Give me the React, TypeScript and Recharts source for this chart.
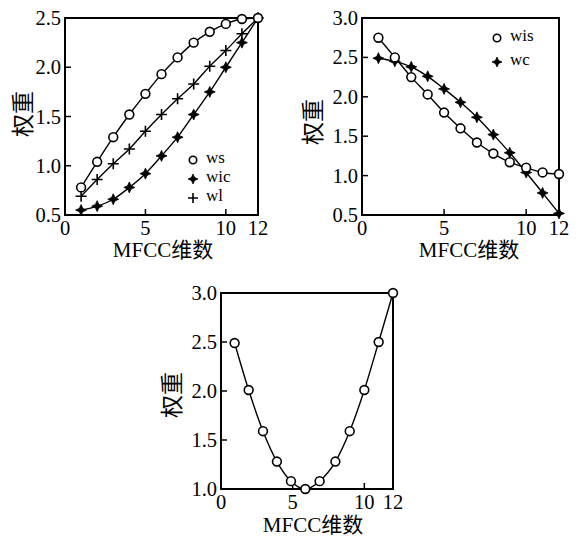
import React from "react";
import { LineChart, Line, XAxis, YAxis, ReferenceArea } from "recharts";

// ---------- data ----------
const dims = [1, 2, 3, 4, 5, 6, 7, 8, 9, 10, 11, 12];

// plot 1
const wsValues = [0.78, 1.04, 1.29, 1.52, 1.73, 1.93, 2.1, 2.25, 2.36, 2.44, 2.49, 2.5];
const wicValues = [0.55, 0.59, 0.66, 0.78, 0.92, 1.1, 1.29, 1.52, 1.75, 2.0, 2.25, 2.5];
const wlValues = [0.69, 0.86, 1.02, 1.17, 1.35, 1.52, 1.68, 1.83, 2.01, 2.17, 2.34, 2.5];

// plot 2
const wisValues = [2.75, 2.5, 2.25, 2.03, 1.8, 1.6, 1.42, 1.28, 1.17, 1.1, 1.04, 1.02];
const wcValues = [2.49, 2.45, 2.38, 2.26, 2.1, 1.93, 1.74, 1.52, 1.29, 1.04, 0.78, 0.52];

// plot 3
const dims3 = [0.95, 1.93, 2.93, 3.9, 4.88, 5.88, 6.88, 7.98, 8.98, 10, 11, 12];
const w3Values = [2.49, 2.01, 1.59, 1.28, 1.08, 1.0, 1.08, 1.28, 1.59, 2.01, 2.5, 3.0];

const xTicks = [0, 5, 10, 12];
const yTicks1 = [0.5, 1.0, 1.5, 2.0, 2.5];
const yTicks2 = [0.5, 1.0, 1.5, 2.0, 2.5, 3.0];
const yTicks3 = [1.0, 1.5, 2.0, 2.5, 3.0];

const yLabel = "权重";
const xLabel = "MFCC维数";

const data1 = dims.map((x, i) => ({ x, ws: wsValues[i], wic: wicValues[i], wl: wlValues[i] }));
const data2 = dims.map((x, i) => ({ x, wis: wisValues[i], wc: wcValues[i] }));
const data3 = dims3.map((x, i) => ({ x, w: w3Values[i] }));

// ---------- styles ----------
const SERIF = "'Liberation Serif', 'Times New Roman', 'Noto Sans CJK SC', serif";
const TICK_FONT = 20.5;

type MarkerKind = "circle" | "star" | "plus";

function MarkerShape({ cx, cy, kind, scale = 1 }: { cx: number; cy: number; kind: MarkerKind; scale?: number }) {
  if (cx == null || cy == null) return null;
  if (kind === "circle") {
    return <circle cx={cx} cy={cy} r={4.4 * scale} fill="#fff" stroke="#000" strokeWidth={1.6} />;
  }
  if (kind === "plus") {
    const s = 5.5 * scale;
    return (
      <path
        d={`M${cx - s},${cy}H${cx + s}M${cx},${cy - s}V${cy + s}`}
        stroke="#000"
        strokeWidth={1.6}
        fill="none"
      />
    );
  }
  const o = 5.5 * scale;
  const n = 1.7 * scale;
  const d = `M${cx},${cy - o}L${cx + n},${cy - n}L${cx + o},${cy}L${cx + n},${cy + n}L${cx},${cy + o}L${cx - n},${cy + n}L${cx - o},${cy}L${cx - n},${cy - n}Z`;
  return (
    <g>
      <path d={d} fill="#000" stroke="#000" strokeWidth={0.8} />
      <circle cx={cx} cy={cy} r={2.3 * scale} fill="#000" />
    </g>
  );
}

const makeDot = (kind: MarkerKind) => (props: any) => (
  <MarkerShape key={`${kind}-${props.index}`} cx={props.cx} cy={props.cy} kind={kind} />
);

const YTick = (props: any) => {
  const { x, y, payload } = props;
  return (
    <text x={x} y={y} textAnchor="end" dominantBaseline="central" fontFamily={SERIF} fontSize={TICK_FONT} fill="#000">
      {Number(payload.value).toFixed(1)}
    </text>
  );
};

const XTick = (props: any) => {
  const { x, y, payload } = props;
  return (
    <text x={x} y={y} dy="0.71em" textAnchor="middle" fontFamily={SERIF} fontSize={TICK_FONT} fill="#000">
      {payload.value}
    </text>
  );
};

function Label({ text, x, y, rotate = false, size = 21 }: { text: string; x: number; y: number; rotate?: boolean; size?: number }) {
  return (
    <div
      style={{
        position: "absolute",
        left: x,
        top: y,
        transform: `translate(-50%, -50%)${rotate ? " rotate(-90deg)" : ""}`,
        fontFamily: SERIF,
        fontSize: size,
        lineHeight: 1,
        whiteSpace: "nowrap",
        color: "#000",
      }}
    >
      {text}
    </div>
  );
}

function LegendItem({ x, y, kind, text }: { x: number; y: number; kind: MarkerKind; text: string }) {
  return (
    <div style={{ position: "absolute", left: x - 8, top: y - 8, height: 16, display: "flex", alignItems: "center" }}>
      <svg width={16} height={16} style={{ overflow: "visible" }}>
        <MarkerShape cx={8} cy={8} kind={kind} scale={kind === "circle" ? 0.85 : 0.9} />
      </svg>
      <span style={{ fontFamily: SERIF, fontSize: 17, marginLeft: 5, lineHeight: "16px", height: 16, position: "relative", top: -2 }}>{text}</span>
    </div>
  );
}

const lineProps = {
  type: "monotone" as const,
  stroke: "#000",
  strokeWidth: 1.4,
  isAnimationActive: false,
  activeDot: false as const,
};

const axisLine = { stroke: "#000", strokeWidth: 2 };
const tickLine = { stroke: "#000", strokeWidth: 1.5 };

export default function App() {
  return (
    <div style={{ position: "absolute", left: 0, top: 0, width: 579, height: 537, background: "#fff", overflow: "hidden" }}>
      {/* Plot 1 */}
      <div style={{ position: "absolute", left: 0, top: 0 }}>
        <LineChart width={290} height={262} data={data1} margin={{ top: 18, right: 32, left: 0, bottom: 0 }}>
          <XAxis
            dataKey="x"
            type="number"
            domain={[0, 12]}
            ticks={xTicks}
            interval={0}
            height={47}
            tickSize={-6}
            tickMargin={11}
            tick={<XTick />}
            axisLine={axisLine}
            tickLine={tickLine}
          />
          <YAxis
            type="number"
            domain={[0.5, 2.5]}
            ticks={yTicks1}
            interval={0}
            width={65}
            tickSize={-6}
            tickMargin={10}
            tick={<YTick />}
            axisLine={axisLine}
            tickLine={tickLine}
          />
          <ReferenceArea x1={0} x2={12} y1={0.5} y2={2.5} fill="none" stroke="#000" strokeWidth={2} ifOverflow="visible" />
          <Line dataKey="wic" {...lineProps} dot={makeDot("star")} />
          <Line dataKey="wl" {...lineProps} dot={makeDot("plus")} />
          <Line dataKey="ws" {...lineProps} dot={makeDot("circle")} />
        </LineChart>
      </div>
      <Label text={yLabel} x={23} y={114} rotate size={23} />
      <Label text={xLabel} x={163} y={250} size={21} />
      <LegendItem x={193} y={160} kind="circle" text="ws" />
      <LegendItem x={193} y={179} kind="star" text="wic" />
      <LegendItem x={193} y={198} kind="plus" text="wl" />

      {/* Plot 2 */}
      <div style={{ position: "absolute", left: 290, top: 0 }}>
        <LineChart width={289} height={262} data={data2} margin={{ top: 18, right: 20, left: 0, bottom: 0 }}>
          <XAxis
            dataKey="x"
            type="number"
            domain={[0, 12]}
            ticks={xTicks}
            interval={0}
            height={47}
            tickSize={-6}
            tickMargin={11}
            tick={<XTick />}
            axisLine={axisLine}
            tickLine={tickLine}
          />
          <YAxis
            type="number"
            domain={[0.5, 3.0]}
            ticks={yTicks2}
            interval={0}
            width={72}
            tickSize={-6}
            tickMargin={10}
            tick={<YTick />}
            axisLine={axisLine}
            tickLine={tickLine}
          />
          <ReferenceArea x1={0} x2={12} y1={0.5} y2={3.0} fill="none" stroke="#000" strokeWidth={2} ifOverflow="visible" />
          <Line dataKey="wc" {...lineProps} dot={makeDot("star")} />
          <Line dataKey="wis" {...lineProps} dot={makeDot("circle")} />
        </LineChart>
      </div>
      <Label text={yLabel} x={313} y={122} rotate size={23} />
      <Label text={xLabel} x={469} y={250} size={21} />
      <LegendItem x={497} y={38} kind="circle" text="wis" />
      <LegendItem x={497} y={62} kind="star" text="wc" />

      {/* Plot 3 */}
      <div style={{ position: "absolute", left: 170, top: 280 }}>
        <LineChart width={240} height={257} data={data3} margin={{ top: 13, right: 17, left: 0, bottom: 0 }}>
          <XAxis
            dataKey="x"
            type="number"
            domain={[0, 12]}
            ticks={xTicks}
            interval={0}
            height={48}
            tickSize={-6}
            tickMargin={11}
            tick={<XTick />}
            axisLine={axisLine}
            tickLine={tickLine}
          />
          <YAxis
            type="number"
            domain={[1.0, 3.0]}
            ticks={yTicks3}
            interval={0}
            width={51}
            tickSize={-6}
            tickMargin={10}
            tick={<YTick />}
            axisLine={axisLine}
            tickLine={tickLine}
          />
          <ReferenceArea x1={0} x2={12} y1={1.0} y2={3.0} fill="none" stroke="#000" strokeWidth={2} ifOverflow="visible" />
          <Line dataKey="w" {...lineProps} dot={makeDot("circle")} />
        </LineChart>
      </div>
      <Label text={yLabel} x={172} y={395} rotate size={23} />
      <Label text={xLabel} x={313} y={525} size={21} />
    </div>
  );
}
